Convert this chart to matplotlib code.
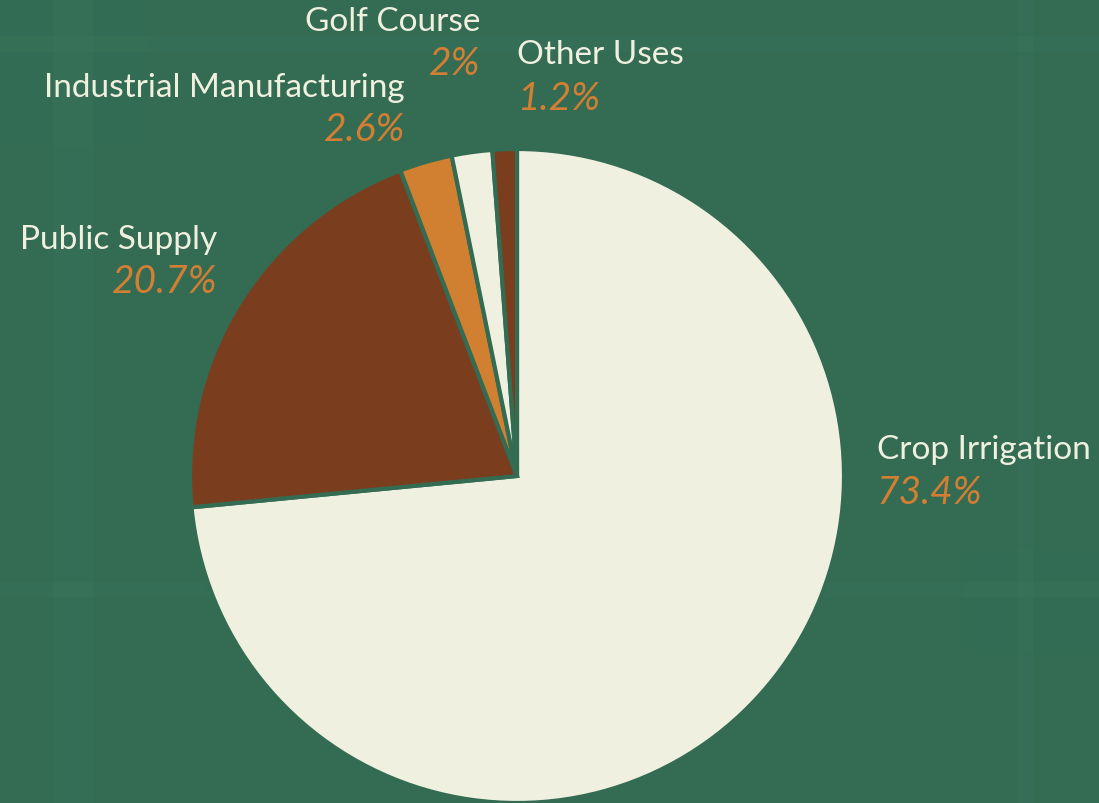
import matplotlib
matplotlib.use("Agg")
import matplotlib.pyplot as plt
from matplotlib.patches import Rectangle

categories = ["Crop Irrigation", "Public Supply", "Industrial Manufacturing", "Golf Course", "Other Uses"]
values = [73.4, 20.7, 2.6, 2.0, 1.2]
pct_labels = ["73.4%", "20.7%", "2.6%", "2%", "1.2%"]

BG = "#336b53"
CREAM = "#f0f0e0"
BROWN = "#7a3e1e"
ORANGE = "#d08030"
colors = [CREAM, BROWN, ORANGE, CREAM, BROWN]

W, H = 1099, 804
cx, cy, R = 517, 477, 327

fig = plt.figure(figsize=(W / 100, H / 100), dpi=100)
fig.patch.set_facecolor(BG)
ax = fig.add_axes([0, 0, 1, 1])
ax.set_facecolor(BG)
ax.axis("off")

# subtle plaid background
def px_rect(x0, y0, x1, y1, alpha):
    ax.add_patch(Rectangle(((x0 - cx) / R, (cy - y1) / R), (x1 - x0) / R, (y1 - y0) / R,
                           facecolor="#4a8a6e", alpha=alpha, lw=0, zorder=0))

for (a, b) in [(53, 93), (1018, 1033)]:
    px_rect(a, 0, b, H, 0.12)
for (a, b) in [(37, 53), (583, 598)]:
    px_rect(0, a, W, b, 0.12)
px_rect(0, 0, 147, 150, 0.04)
px_rect(965, 550, W, 655, 0.04)

wedges, _ = ax.pie(values, colors=colors, startangle=90, counterclock=False,
                   radius=1.0, center=(0, 0),
                   wedgeprops=dict(edgecolor=BG, linewidth=3))
for w in wedges:
    w.set_zorder(2)
ax.set_xlim((0 - cx) / R, (W - cx) / R)
ax.set_ylim((cy - H) / R, (cy - 0) / R)
ax.set_aspect("auto")

# label placement (x, y in radius units, alignment)
label_pos = [
    (1.10, 0.083, -0.05, "left"),
    (-0.917, 0.725, 0.595, "right"),
    (-0.343, 1.19, 1.06, "right"),
    (-0.113, 1.391, 1.262, "right"),
    (0.0, 1.29, 1.155, "left"),
]

for cat, pct, (x, yl, yp, ha) in zip(categories, pct_labels, label_pos):
    ax.text(x, yl, cat, ha=ha, va="center", color=CREAM, fontsize=24,
            family="Lato", fontweight="normal", zorder=5)
    ax.text(x, yp, pct, ha=ha, va="center", color="#d27f33", fontsize=28,
            family="Lato", fontweight="normal", style="italic", zorder=5)

fig.savefig("out.png", dpi=100, facecolor=BG)
